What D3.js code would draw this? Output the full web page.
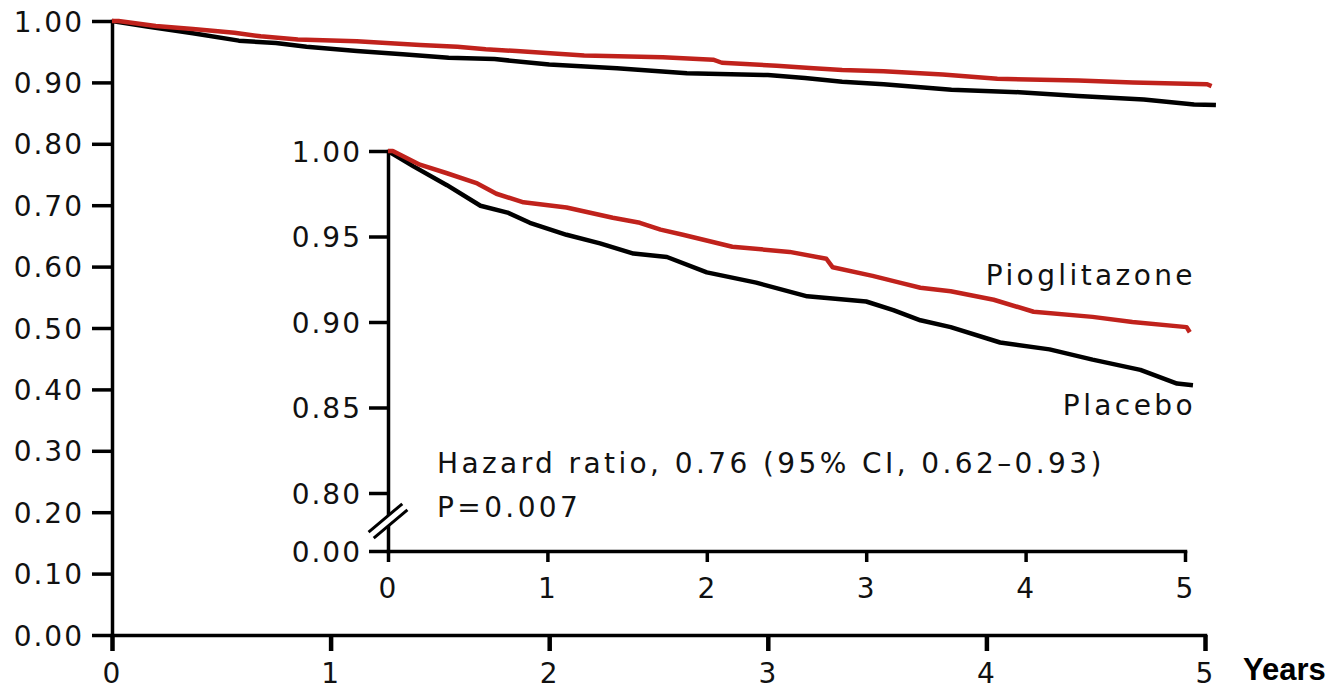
<!DOCTYPE html>
<html>
<head>
<meta charset="utf-8">
<script src="https://cdn.jsdelivr.net/npm/d3@7"></script>
<style>
  body { margin: 0; background: #fff; }
  svg { display: block; }
  .tick text, .label { font-family: "DejaVu Sans", sans-serif; font-size: 28px; fill: #111; }
  .tick text { letter-spacing: 2px; }
  .label { letter-spacing: 3.4px; }
  .years { font-family: "Liberation Sans", Arial, sans-serif; font-weight: bold; font-size: 31px; fill: #000; }
</style>
</head>
<body>
<div id="chart"></div>
<script>
// Kaplan-Meier estimates: [years, survival]
const pioglitazone = [
  [0, 1.000], [0.03, 1.000], [0.2, 0.992], [0.37, 0.987], [0.56, 0.981], [0.68, 0.975],
  [0.85, 0.970], [1.12, 0.967], [1.41, 0.961], [1.58, 0.958], [1.71, 0.954], [1.85, 0.951],
  [2.16, 0.944], [2.52, 0.941], [2.75, 0.937], [2.79, 0.932], [3.04, 0.927], [3.21, 0.923],
  [3.34, 0.920], [3.53, 0.918], [3.80, 0.913], [4.05, 0.906], [4.42, 0.903], [4.67, 0.900],
  [5.01, 0.897], [5.03, 0.894]
];
const placebo = [
  [0, 1.000], [0.16, 0.991], [0.37, 0.980], [0.58, 0.968], [0.75, 0.964], [0.89, 0.958],
  [1.12, 0.951], [1.33, 0.946], [1.54, 0.940], [1.75, 0.938], [2.00, 0.929], [2.31, 0.923],
  [2.63, 0.915], [3.00, 0.912], [3.17, 0.907], [3.34, 0.901], [3.53, 0.897], [3.84, 0.888],
  [4.15, 0.884], [4.42, 0.878], [4.72, 0.872], [4.95, 0.864], [5.05, 0.863]
];
const yearTicks = [0, 1, 2, 3, 4, 5];
const mainYTicks = [0, 0.1, 0.2, 0.3, 0.4, 0.5, 0.6, 0.7, 0.8, 0.9, 1.0];
const insetYTicks = [0, 0.80, 0.85, 0.90, 0.95, 1.00];
const seriesNames = ["Pioglitazone", "Placebo"];
const annotation = ["Hazard ratio, 0.76 (95% CI, 0.62\u20130.93)", "P=0.007"];

const width = 1341, height = 689;
const RED = "#c0221c";

const svg = d3.select("#chart").append("svg")
    .attr("width", width)
    .attr("height", height);

function style_axis(g, w) {
  g.selectAll("path, line").attr("stroke", "#000").attr("stroke-width", w);
  g.select(".domain").attr("stroke-linecap", "square");
}

// ---- main chart
const xMain = d3.scaleLinear().domain([0, 5]).range([112, 1205]);
const yMain = d3.scaleLinear().domain([0, 1]).range([635, 21]);

const main_y = svg.append("g")
    .attr("transform", `translate(${xMain(0)},0)`)
    .call(d3.axisLeft(yMain).tickValues(mainYTicks).tickFormat(d3.format(".2f"))
      .tickSize(20).tickSizeOuter(0).tickPadding(8));
main_y.selectAll("text").attr("dy", "0.36em");
style_axis(main_y, 3.5);

const main_x = svg.append("g")
    .attr("transform", `translate(0,${yMain(0)})`)
    .call(d3.axisBottom(xMain).tickValues(yearTicks).tickFormat(d3.format("d"))
      .tickSize(16).tickSizeOuter(0));
main_x.selectAll("text").attr("dy", null).attr("y", 48);
style_axis(main_x, 3.5);
main_x.selectAll(".tick line").attr("stroke-width", 4.5);

const line_main = d3.line().x(d => xMain(d[0])).y(d => yMain(d[1]));

// ---- inset
const xIn = d3.scaleLinear().domain([0, 5]).range([388, 1185]);
const yIn = d3.scaleLinear().domain([0, 0.8, 1]).range([551, 493, 151]);

const in_y = svg.append("g")
    .attr("transform", `translate(${xIn(0)},0)`)
    .call(d3.axisLeft(yIn).tickValues(insetYTicks).tickFormat(d3.format(".2f"))
      .tickSize(19).tickSizeOuter(0).tickPadding(7));
in_y.selectAll("text").attr("dy", "0.36em");
style_axis(in_y, 3.5);

const in_x = svg.append("g")
    .attr("transform", `translate(0,${yIn(0)})`)
    .call(d3.axisBottom(xIn).tickValues(yearTicks).tickFormat(d3.format("d"))
      .tickSize(11).tickSizeOuter(0));
in_x.selectAll("text").attr("dy", null).attr("y", 47);
style_axis(in_x, 3.5);

// axis break marks on the inset y axis
const brk = svg.append("g")
    .attr("transform", `translate(${xIn(0)},${(yIn(0.8) + yIn(0)) / 2 - 1}) rotate(-40)`);
brk.append("rect")
    .attr("x", -22).attr("y", -4).attr("width", 44).attr("height", 8)
    .attr("fill", "#fff");
brk.selectAll("line")
  .data([-4, 4])
  .join("line")
    .attr("x1", -22).attr("x2", 22)
    .attr("y1", d => d).attr("y2", d => d)
    .attr("stroke", "#000")
    .attr("stroke-width", 3);

const line_in = d3.line().x(d => xIn(d[0])).y(d => yIn(d[1]));

// ---- curves
const series = [
  {name: seriesNames[1], data: placebo, color: "#000"},
  {name: seriesNames[0], data: pioglitazone, color: RED}
];

svg.append("g").selectAll("path")
  .data(series)
  .join("path")
    .attr("d", d => line_main(d.data))
    .attr("fill", "none")
    .attr("stroke", d => d.color)
    .attr("stroke-width", 4.5)
    .attr("stroke-linejoin", "round");

svg.append("g").selectAll("path")
  .data(series)
  .join("path")
    .attr("d", d => line_in(d.data))
    .attr("fill", "none")
    .attr("stroke", d => d.color)
    .attr("stroke-width", 4.5)
    .attr("stroke-linejoin", "round");

// ---- labels
svg.append("text").classed("label", true)
    .attr("x", 1196).attr("y", 285)
    .attr("text-anchor", "end")
    .text(seriesNames[0]);
svg.append("text").classed("label", true)
    .attr("x", 1196).attr("y", 415)
    .attr("text-anchor", "end")
    .text(seriesNames[1]);

svg.selectAll("text.annot")
  .data(annotation)
  .join("text")
    .classed("label annot", true)
    .attr("x", 437)
    .attr("y", (d, i) => 473 + i * 44)
    .text(d => d);

svg.append("text").classed("years", true)
    .attr("x", 1243).attr("y", 680)
    .text("Years");
</script>
</body>
</html>
